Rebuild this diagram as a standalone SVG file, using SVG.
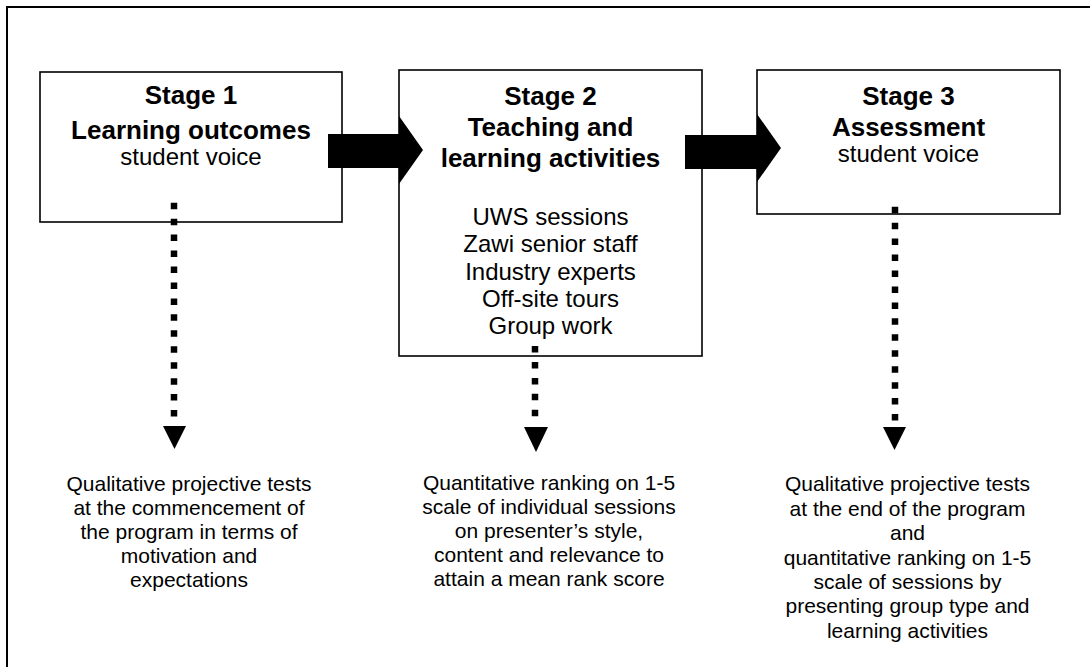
<svg xmlns="http://www.w3.org/2000/svg" width="1090" height="667" viewBox="0 0 1090 667">
<style>
  .box { fill: #fff; stroke: #000; stroke-width: 1.6; }
  .frame { fill: none; stroke: #000; stroke-width: 2; }
  text { font-family: "Liberation Sans", Arial, sans-serif; fill: #000; text-anchor: middle; }
  .b { font-weight: bold; font-size: 26px; }
  .r { font-size: 24px; }
  .s { font-size: 21px; }
  .dots { stroke: #000; stroke-width: 6.5; stroke-dasharray: 6.5 9.45; fill: none; }
  .block { fill: #000; }
</style>
<rect x="0" y="0" width="1090" height="667" fill="#fff"/>
<rect class="frame" x="7" y="7" width="1110" height="700"/>

<g id="stage1">
  <rect class="box" x="40" y="72" width="302" height="150"/>
  <text class="b" x="191" y="104">Stage 1</text>
  <text class="b" x="191" y="139">Learning outcomes</text>
  <text class="r" x="191" y="165">student voice</text>
</g>

<g id="stage2">
  <rect class="box" x="399" y="70" width="303" height="286"/>
  <text class="b" x="550.5" y="105">Stage 2</text>
  <text class="b" x="550.5" y="136">Teaching and</text>
  <text class="b" x="550.5" y="167">learning activities</text>
  <text class="r" x="550.5" y="225">UWS sessions</text>
  <text class="r" x="550.5" y="252">Zawi senior staff</text>
  <text class="r" x="550.5" y="279.5">Industry experts</text>
  <text class="r" x="550.5" y="306.5">Off-site tours</text>
  <text class="r" x="550.5" y="334">Group work</text>
</g>

<g id="stage3">
  <rect class="box" x="757" y="70" width="303" height="144"/>
  <text class="b" x="908.5" y="105">Stage 3</text>
  <text class="b" x="908.5" y="136">Assessment</text>
  <text class="r" x="908.5" y="162">student voice</text>
</g>

<g id="connectors">
  <polygon class="block" points="328,134 399,134 399,116 423,150 399,184 399,168 328,168"/>
  <polygon class="block" points="685,135 757,135 757,114 781,148 757,182 757,169 685,169"/>
  <line class="dots" x1="174" y1="202.7" x2="174" y2="418"/>
  <polygon class="block" points="163,426 186,426 174.5,449"/>
  <line class="dots" x1="535" y1="346" x2="535" y2="417"/>
  <polygon class="block" points="524,427 548,427 536,452"/>
  <line class="dots" x1="895" y1="206.7" x2="895" y2="421"/>
  <polygon class="block" points="883,427 906,427 894.5,450"/>
</g>

<g id="outcome1">
  <text class="s" x="189" y="491">Qualitative projective tests</text>
  <text class="s" x="189" y="515">at the commencement of</text>
  <text class="s" x="189" y="539">the program in terms of</text>
  <text class="s" x="189" y="563">motivation and</text>
  <text class="s" x="189" y="587">expectations</text>
</g>

<g id="outcome2">
  <text class="s" x="549" y="490">Quantitative ranking on 1-5</text>
  <text class="s" x="549" y="514">scale of individual sessions</text>
  <text class="s" x="549" y="538">on presenter’s style,</text>
  <text class="s" x="549" y="562">content and relevance to</text>
  <text class="s" x="549" y="586">attain a mean rank score</text>
</g>

<g id="outcome3">
  <text class="s" x="907.5" y="491">Qualitative projective tests</text>
  <text class="s" x="907.5" y="516">at the end of the program</text>
  <text class="s" x="907.5" y="540">and</text>
  <text class="s" x="907.5" y="565">quantitative ranking on 1-5</text>
  <text class="s" x="907.5" y="589">scale of sessions by</text>
  <text class="s" x="907.5" y="613">presenting group type and</text>
  <text class="s" x="907.5" y="638">learning activities</text>
</g>
</svg>
